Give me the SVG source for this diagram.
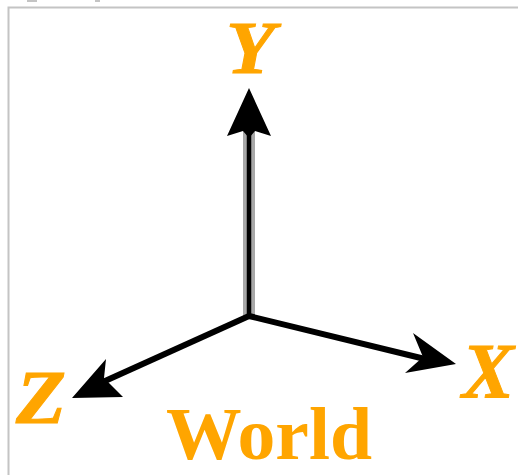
<svg xmlns="http://www.w3.org/2000/svg" width="518" height="475" viewBox="0 0 518 475">
<style>
text{font-family:"Liberation Serif","Times New Roman",serif;font-weight:bold;fill:#ffa500}
.i{font-style:italic;stroke:#ffa500;stroke-width:1}
.ax{fill:none;stroke:#000;stroke-width:6}
.head{fill:#000;stroke:none}
</style>
<rect width="518" height="475" fill="#fff"/>
<path d="M8.500 475V7.500H518" fill="none" stroke="#c4c4c4" stroke-width="2"/>
<path d="M27 0h10v2h-10zM95 0h5v2h-5z" fill="#c4c4c4"/>
<g id="connectors">
<path d="M249 316V130" fill="none" stroke="#a8a8a8" stroke-width="12"/>
<path d="M249 318V130" fill="none" stroke="#000" stroke-width="4.500"/>
<path class="ax" d="M249 316L105 381"/>
<path class="ax" d="M249 316L425 359"/>
<path class="head" d="M249 88L271 136L255 131L249 138L243 131L227 136Z"/>
<path class="head" d="M72 398L106 359L104 378L123 397Z"/>
<path class="head" d="M456 364L413 333L423 357L405 373Z"/>
</g>
<g id="label-y"><text class="i" x="226" y="73" font-size="74" textLength="49" lengthAdjust="spacingAndGlyphs">Y</text></g>
<g id="label-x"><text class="i" x="462" y="397" font-size="78" textLength="52" lengthAdjust="spacingAndGlyphs">X</text></g>
<g id="label-z"><text class="i" x="16" y="423" font-size="76" textLength="50" lengthAdjust="spacingAndGlyphs">Z</text></g>
<g id="label-world"><text x="166" y="459" font-size="73" textLength="206" lengthAdjust="spacingAndGlyphs">World</text></g>
</svg>
